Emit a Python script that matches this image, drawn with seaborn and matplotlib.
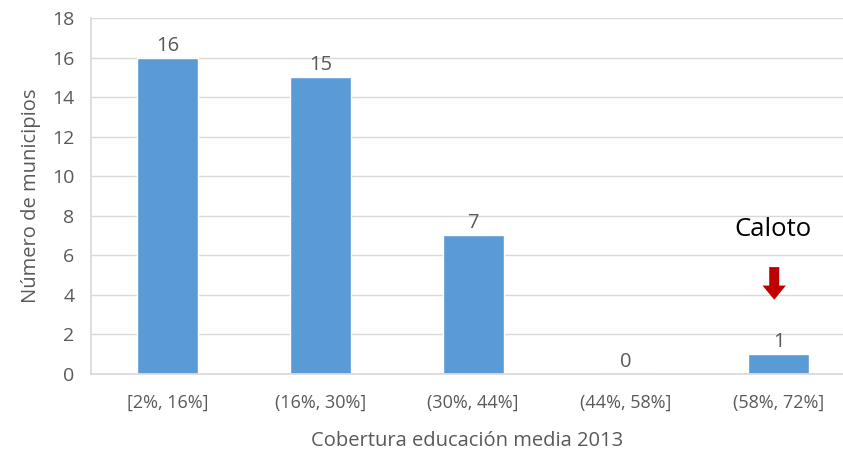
import matplotlib
matplotlib.use("Agg")
import matplotlib.pyplot as plt
import seaborn as sns
import pandas as pd

categories = ["[2%, 16%]", "(16%, 30%]", "(30%, 44%]", "(44%, 58%]", "(58%, 72%]"]
counts = [16, 15, 7, 0, 1]

sns.set_theme(style="whitegrid")
plt.rcParams['font.family'] = ['Open Sans', 'DejaVu Sans']

df = pd.DataFrame({"rango": categories, "municipios": counts})

fig = plt.figure(figsize=(8.43, 4.61), dpi=100)
ax = fig.add_axes([0.108, 0.189, 0.892, 0.772])
sns.barplot(data=df, x="rango", y="municipios", color="#5B9BD5", width=0.4,
            saturation=1, ax=ax)

for i, v in enumerate(counts):
    ax.text(i, v + 0.1, str(v), ha="center", va="bottom", fontsize=14.5, color="#595959")

ax.set_ylim(0, 18)
ax.set_yticks(range(0, 19, 2))
ax.set_xlim(-0.5, 4.42)
ax.grid(axis="y", color="#D9D9D9", linewidth=1)
ax.grid(axis="x", visible=False)
for s in ["top", "right"]:
    ax.spines[s].set_visible(False)
ax.spines["left"].set_color("#D9D9D9")
ax.spines["bottom"].set_color("#D9D9D9")
ax.tick_params(axis="y", labelsize=14, labelcolor="#595959", length=0, pad=12)
ax.tick_params(axis="x", labelsize=13, labelcolor="#595959", length=0, pad=14)
ax.set_xlabel("Cobertura educación media 2013", fontsize=14.5, color="#595959", labelpad=14)
ax.set_ylabel("Número de municipios", fontsize=14.5, color="#595959", labelpad=8)

# etiqueta y flecha para Caloto
ax.text(3.96, 7.3, "Caloto", ha="center", va="center", fontsize=18.5, color="black")
ax.annotate("", xy=(3.97, 3.75), xytext=(3.97, 5.4),
            arrowprops=dict(arrowstyle="simple,head_width=1.4,head_length=0.85,tail_width=0.6",
                            color="#C00000", lw=0, shrinkA=0, shrinkB=0))

fig.savefig("out.png", dpi=100)
